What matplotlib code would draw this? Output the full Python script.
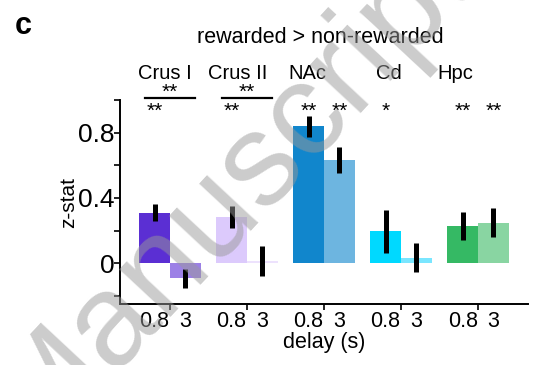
import numpy as np
import matplotlib.pyplot as plt
from matplotlib.ticker import FixedLocator

plt.rcParams['font.family'] = ['Liberation Sans', 'DejaVu Sans']

# data
regions = ['Crus I', 'Crus II', 'NAc', 'Cd', 'Hpc']
delays = ['0.8', '3']
z_short = [0.31, 0.285, 0.84, 0.197, 0.23]
z_long = [-0.09, 0.012, 0.634, 0.035, 0.248]
# error ranges (low, high)
err_short = [(0.26, 0.363), (0.217, 0.35), (0.774, 0.905), (0.063, 0.326), (0.142, 0.316)]
err_long = [(-0.15, -0.033), (-0.078, 0.106), (0.552, 0.712), (-0.055, 0.125), (0.162, 0.337)]
stars_short = ['**', '**', '**', '*', '**']
stars_long = ['', '', '**', '', '**']
colors_short = ['#5b2fd3', '#dccafc', '#1186cc', '#00d9ff', '#35b964']
colors_long = ['#9c80e6', '#ede2fd', '#6db5e0', '#7ae6ff', '#89d5a2']
# comparison between delays within region
compare = {'Crus I': '**', 'Crus II': '**'}

fig = plt.figure(figsize=(5.4, 3.65), dpi=100)
ax = fig.add_axes([0.222, 0.167, 0.756, 0.559])

x = np.arange(len(regions))
w = 0.4
ax.bar(x - w / 2, z_short, w, color=colors_short, zorder=1)
ax.bar(x + w / 2, z_long, w, color=colors_long, zorder=1)
for i in range(len(regions)):
    ax.plot([x[i] - w / 2] * 2, err_short[i], color='black', lw=3.6, solid_capstyle='butt', zorder=2)
    ax.plot([x[i] + w / 2] * 2, err_long[i], color='black', lw=3.6, solid_capstyle='butt', zorder=2)
    ax.text(x[i] - w / 2, 0.93, stars_short[i], ha='center', va='center', fontsize=15, clip_on=False)
    ax.text(x[i] + w / 2, 0.93, stars_long[i], ha='center', va='center', fontsize=15, clip_on=False)

for r, s in compare.items():
    i = regions.index(r)
    ax.plot([x[i] - 0.32, x[i] + 0.33], [1.013, 1.013], color='black', lw=1.6, clip_on=False)
    ax.text(x[i] + 0.0, 1.045, s, ha='center', va='center', fontsize=15, clip_on=False)

label_off = [-0.065, -0.12, -0.21, -0.16, -0.29]
for i, r in enumerate(regions):
    ax.text(x[i] + label_off[i], 1.16, r, ha='center', va='center', fontsize=14.5, clip_on=False)
ax.text(1.95, 1.385, 'rewarded > non-rewarded', ha='center', va='center', fontsize=15.5, clip_on=False)

ax.set_xlim(-0.65, 4.65)
ax.set_ylim(-0.25, 1.0)
ax.set_yticks([-0.2, 0, 0.2, 0.4, 0.6, 0.8, 1.0])
ax.set_yticklabels(['', '0', '', '0.4', '', '0.8', ''], fontsize=19)
ax.set_xticks(x)
ax.set_xticklabels([])
ax.xaxis.set_minor_locator(FixedLocator(np.concatenate([x - w / 2, x + w / 2])))
ax.set_xticklabels([delays[0]] * 5 + [delays[1]] * 5, minor=True, fontsize=15.5)
ax.tick_params(axis='x', which='minor', length=0, pad=5)
ax.tick_params(axis='both', which='major', direction='out', length=4, width=1.2)
ax.tick_params(axis='y', pad=0)
for s in ['top', 'right']:
    ax.spines[s].set_visible(False)
for s in ['left', 'bottom']:
    ax.spines[s].set_linewidth(1.4)
ax.set_xlabel('delay (s)', fontsize=15.5, labelpad=0)
ax.set_ylabel('z-stat', fontsize=15, labelpad=0)

fig.text(0.028, 0.93, 'c', fontsize=22, fontweight='bold', ha='left', va='center')

# watermark
fig.text(0.428, 0.48, 'Manuscript', fontsize=95, color='#999999', alpha=0.5,
         rotation=47, ha='center', va='center', zorder=10)

fig.savefig('out.png', dpi=100)
